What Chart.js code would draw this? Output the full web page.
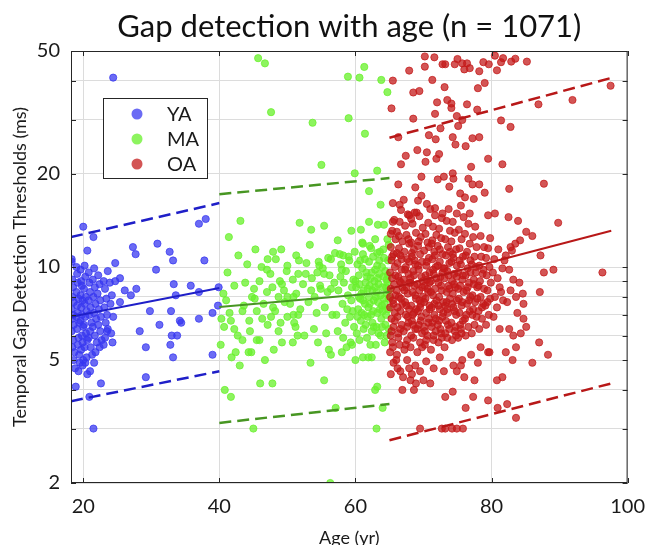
<!DOCTYPE html>
<html>
<head>
<meta charset="utf-8">
<script src="https://cdn.jsdelivr.net/npm/chart.js@4"></script>
<style>
  html, body { margin: 0; padding: 0; background: #fff; }
  #chart { display: block; }
</style>
</head>
<body>
<canvas id="chart" width="657" height="545"></canvas>
<script>
const chartTitle = "Gap detection with age (n = 1071)";
const ageTicks = [20, 40, 60, 80, 100];
const gapTicks = [2, 3, 4, 5, 6, 7, 8, 9, 10, 20, 30, 40, 50];
const gapLabels = [2, 5, 10, 20, 50];
const groupNames = ["YA", "MA", "OA"];

// [age (yr), threshold (ms)]
const yaPoints = [
  [18.3,10.4],[18.4,9.1],[18.5,8.6],[18.4,8.0],[18.6,7.7],[18.3,7.3],[18.5,7.0],[18.4,6.8],[18.6,6.5],[18.3,6.2],[18.5,5.8],[18.4,5.5],[18.7,5.3],[18.6,5.0],[18.8,4.7],
  [19.0,10.0],[19.1,9.5],[19.2,8.9],[19.0,8.3],[19.3,7.9],[19.1,7.5],[19.2,7.1],[19.0,6.9],[19.4,6.6],[19.1,6.3],[19.3,5.9],[19.2,5.6],[19.4,5.2],[19.5,4.9],[19.3,4.6],
  [19.6,9.8],[19.7,9.0],[19.8,8.7],[19.6,8.1],[19.9,7.8],[19.7,7.4],[19.8,7.0],[19.6,6.7],[20.0,6.4],[19.8,6.0],[19.9,5.7],[19.7,5.4],[20.0,5.0],[19.9,4.8],
  [20.2,10.1],[20.3,9.3],[20.1,8.5],[20.4,8.0],[20.2,7.6],[20.5,7.2],[20.3,6.9],[20.1,6.5],[20.4,6.1],[20.6,5.8],[20.2,5.5],[20.5,5.1],[20.3,4.9],[20.6,4.5],
  [20.8,9.6],[20.9,8.9],[21.0,8.3],[20.8,7.8],[21.1,7.4],[20.9,7.0],[21.2,6.6],[21.0,6.2],[20.8,5.9],[21.1,5.5],[21.3,5.2],[21.0,4.6],
  [21.6,9.9],[21.4,9.1],[21.7,8.6],[21.5,8.0],[21.8,7.6],[21.6,7.1],[21.9,6.8],[21.4,6.4],[21.7,6.0],[22.0,5.7],[21.8,5.3],[21.6,4.9],
  [22.2,9.4],[22.4,8.8],[22.1,8.2],[22.5,7.8],[22.3,7.3],[22.6,6.9],[22.2,6.5],[22.5,6.2],[22.7,5.8],[22.4,5.5],
  [23.0,9.0],[23.2,8.5],[23.4,7.9],[23.1,7.4],[23.5,7.0],[23.3,6.6],[23.6,6.3],[23.2,5.9],[23.0,5.6],
  [23.9,8.9],[24.2,8.1],[24.0,7.6],[24.4,6.9],[24.1,6.1],
  [20.0,13.5],[21.5,12.5],[20.6,11.3],[27.3,11.6],[27.7,11.0],[30.9,11.9],[32.7,11.2],[33.2,10.5],[37.0,13.8],[38.0,14.3],
  [37.8,10.5],[30.7,9.8],[24.7,10.3],[23.6,9.7],[25.4,9.2],[24.7,9.0],[26.1,8.4],[27.8,8.5],[27.0,8.1],[33.3,8.8],
  [35.8,8.7],[33.6,8.1],[37.0,8.3],[25.4,7.7],[29.8,7.2],[32.9,7.2],[39.0,7.1],[39.8,7.5],[31.2,6.5],[34.2,6.7],
  [34.4,6.6],[37.0,6.8],[28.3,6.2],[33.0,6.0],[33.8,6.0],[29.2,5.5],[32.8,5.6],[33.2,5.1],[39.0,5.2],[29.2,4.4],
  [22.6,4.2],[20.9,3.8],[21.5,3.0],[18.9,4.1],[24.4,41.0],[18.3,10.6],[23.5,6.2],[24.3,5.7],[39.9,8.6]
];

const maPoints = [
  [45.7,47.4],[46.7,45.6],[47.6,31.7],[53.7,29.3],[55.0,21.4],[58.9,41.3],[60.6,41.0],[61.3,44.4],[63.8,40.3],[64.7,36.8],
  [59.0,30.3],[61.4,27.0],[63.2,20.5],[59.9,20.1],[62.0,17.6],[63.7,15.9],[43.1,14.1],[41.4,12.5],[51.8,13.9],[53.5,13.2],
  [55.4,13.6],[59.4,13.1],[60.8,13.2],[62.0,14.0],[63.3,13.7],[64.2,13.7],[57.4,12.2],[61.1,11.9],[62.9,12.3],[45.3,11.4],
  [49.1,11.4],[42.8,10.9],[47.9,11.2],[51.3,10.9],[51.7,10.5],[47.1,10.6],[46.2,10.0],[47.5,9.5],[41.2,9.6],[50.0,10.1],
  [51.6,9.5],[52.7,9.5],[54.7,10.1],[54.4,9.6],[55.4,9.5],[56.4,10.6],[57.0,11.1],[58.2,10.9],[59.0,10.8],[58.0,9.8],
  [60.7,10.5],[62.1,11.7],[63.2,11.1],[45.1,8.5],[47.0,8.3],[49.2,8.8],[48.7,8.0],[50.0,8.0],[50.9,8.0],[53.5,8.4],
  [54.9,8.5],[56.4,8.5],[43.4,7.2],[41.7,6.7],[42.2,6.3],[40.7,6.4],[44.4,6.7],[45.5,7.2],[47.1,6.5],[47.6,6.9],
  [47.9,7.4],[48.2,7.2],[48.7,6.2],[50.0,6.9],[50.9,7.0],[51.6,7.0],[51.2,6.4],[51.5,6.0],[49.2,5.7],[50.8,5.7],
  [43.4,5.8],[40.2,5.6],[45.5,5.8],[45.9,5.8],[44.3,5.3],[44.7,5.3],[42.4,5.3],[41.8,5.1],[43.0,4.8],[46.7,5.0],
  [53.4,4.9],[54.5,5.7],[56.1,5.4],[56.4,5.2],[46.0,4.2],[47.8,4.2],[40.8,4.0],[41.7,3.8],[55.4,4.3],[57.1,3.5],
  [63.2,4.1],[62.9,4.0],[64.0,3.5],[45.0,3.0],[63.1,3.0],[60.0,5.0],[61.1,5.1],[61.9,5.1],[62.4,5.1],[58.0,5.3],
  [58.7,5.5],[59.5,5.6],[56.3,2.0],
  [40.3,6.8],[40.6,8.2],[41.5,7.1],[42.7,6.0],[43.8,8.9],[44.5,6.2],[45.2,7.9],[46.3,6.8],[47.0,9.8],[48.0,5.4],
  [49.0,6.6],[49.5,8.4],
  [50.4,7.6],[50.8,9.1],[51.3,8.2],[51.9,7.3],[52.3,8.8],[52.8,10.3],[53.1,7.7],[53.6,9.2],[54.0,8.0],[54.3,7.1],
  [54.8,8.7],[55.2,9.9],[55.5,7.4],[55.9,8.3],[56.2,9.4],[56.6,7.0],[56.9,8.9],[53.9,6.3],[55.7,6.1],[52.5,6.0],
  [51.0,6.6],[49.6,7.7],[48.9,9.0],[49.9,9.7],[46.5,7.6],[44.8,8.0],[43.6,7.5],[42.2,8.7],[41.0,7.8],[45.9,9.0],
  [47.8,8.6],[53.3,11.8],[56.0,10.7],[54.6,10.4],[48.3,10.6],[44.1,10.2],
  [57.2,7.0],[57.5,8.4],[57.8,9.3],[57.4,6.2],[57.9,10.2],[58.1,7.6],[58.3,8.9],[58.5,6.6],[58.6,9.7],[58.8,7.3],
  [58.9,8.1],[59.1,10.5],[59.2,6.9],[59.4,7.8],[59.5,8.6],[59.7,9.1],[59.8,6.4],[59.9,11.2],[59.6,7.2],[58.2,5.9],
  [57.7,11.0],[59.3,5.7],
  [60.2,6.1],[60.4,7.3],[60.1,8.6],[60.5,9.4],[60.3,10.2],[60.6,5.8],[60.8,6.7],[60.7,7.9],[60.9,8.2],[61.0,9.9],
  [61.1,11.0],[61.2,6.3],[61.3,7.0],[61.4,7.6],[61.5,8.9],[61.6,9.6],[61.4,10.6],[61.7,5.9],[61.8,6.9],[61.9,7.4],
  [62.0,8.0],[62.1,8.7],[62.2,9.2],[62.0,10.4],[62.3,11.5],[62.4,6.2],[62.5,6.6],[62.6,7.2],[62.7,7.8],[62.5,8.4],
  [62.8,9.0],[62.9,9.8],[62.6,10.8],[63.0,5.6],[63.1,6.4],[63.2,7.1],[63.3,7.7],[63.1,8.3],[63.4,8.8],[63.5,9.5],
  [63.2,10.1],[63.6,11.2],[63.7,6.0],[63.8,6.8],[63.9,7.5],[63.7,8.1],[64.0,8.6],[64.1,9.3],[63.9,10.0],[64.2,10.7],
  [64.3,5.7],[64.4,6.5],[64.5,7.0],[64.3,7.6],[64.6,8.2],[64.7,8.9],[64.4,9.7],[64.8,10.5],[64.9,6.3],[64.8,7.3],
  [64.9,7.9],[64.6,9.1],[64.9,11.8],[64.7,12.3],
  [60.3,6.9],[60.6,8.8],[60.9,7.1],[61.2,8.4],[61.5,6.5],[61.8,8.5],[62.1,7.6],[62.4,9.6],[62.7,6.4],[63.0,8.0],
  [63.3,9.2],[63.6,7.3],[63.9,6.4],[64.2,7.9],[64.5,8.6],[64.8,9.4],[64.1,11.4],[63.4,6.1],[62.2,5.6],[61.0,12.0],
  [64.6,6.0],[64.9,8.4],[64.0,7.2],[63.5,10.5],[62.9,8.6],[62.3,7.0],[61.7,9.3],[61.1,7.8],[60.5,8.0],[60.0,9.0]
];

const oaPoints = [
  [65.1,5.3],[65.4,5.7],[65.2,6.0],[65.6,6.4],[65.3,6.8],[65.8,7.1],[65.1,7.4],[65.5,7.8],[65.9,8.1],[65.2,8.5],
  [65.7,8.8],[65.4,9.2],[65.1,9.6],[65.8,10.0],[65.3,10.5],[65.6,11.0],[65.2,11.6],[65.9,12.3],[65.4,13.1],[65.7,14.2],
  [65.3,6.2],[65.6,7.6],[65.9,9.4],[65.1,8.0],[65.5,5.5],[65.8,6.7],[65.4,10.8],[65.2,12.8],
  [66.1,5.2],[66.5,5.6],[66.3,6.1],[66.8,6.5],[66.2,6.9],[66.6,7.2],[66.9,7.6],[66.4,8.0],[66.1,8.4],[66.7,8.9],
  [66.3,9.3],[66.8,9.8],[66.2,10.3],[66.6,10.9],[66.4,11.5],[66.9,12.1],[66.1,13.0],[66.5,14.0],[66.7,15.3],[66.3,5.9],
  [66.6,6.3],[66.9,8.6],[66.2,7.4],[66.5,9.0],[66.8,10.6],[66.4,12.6],[66.7,7.9],[66.1,11.1],
  [67.2,5.4],[67.6,5.8],[67.1,6.2],[67.8,6.6],[67.4,7.0],[67.9,7.3],[67.3,7.7],[67.7,8.2],[67.5,8.6],[67.1,9.1],
  [67.8,9.5],[67.4,10.0],[67.6,10.6],[67.2,11.2],[67.9,11.9],[67.5,12.7],[67.3,13.6],[67.7,14.8],[67.1,16.5],[67.6,6.4],
  [67.9,8.9],[67.3,9.8],[67.8,12.3],[67.5,7.5],[67.2,8.4],[67.7,6.9],[67.4,5.6],[67.9,10.4],
  [68.1,5.5],[68.5,5.9],[68.8,6.3],[68.3,6.7],[68.6,7.1],[68.2,7.5],[68.9,7.9],[68.4,8.3],[68.7,8.7],[68.1,9.2],
  [68.5,9.7],[68.8,10.2],[68.3,10.8],[68.6,11.4],[68.2,12.0],[68.9,12.9],[68.4,13.8],[68.7,15.0],[68.2,6.0],[68.5,6.5],
  [68.8,8.1],[68.1,8.9],[68.6,9.4],[68.3,11.1],[68.9,7.3],[68.4,7.0],[68.7,10.5],[68.2,14.3],
  [69.1,5.3],[69.5,5.7],[69.8,6.1],[69.3,6.5],[69.7,6.9],[69.2,7.2],[69.6,7.6],[69.9,8.0],[69.4,8.4],[69.1,8.8],
  [69.7,9.3],[69.3,9.8],[69.8,10.4],[69.5,11.0],[69.2,11.7],[69.6,12.5],[69.9,13.4],[69.4,14.6],[69.7,17.0],[69.1,6.3],
  [69.4,7.8],[69.8,8.6],[69.2,10.1],[69.6,6.7],[69.9,9.0],[69.3,12.1],[69.5,7.4],[69.8,5.5],
  [70.2,5.6],[70.6,6.0],[70.1,6.4],[70.8,6.8],[70.4,7.1],[70.9,7.5],[70.3,7.9],[70.7,8.3],[70.2,8.7],[70.5,9.1],
  [70.9,9.6],[70.4,10.1],[70.8,10.7],[70.1,11.3],[70.6,12.0],[70.3,12.8],[70.7,13.9],[70.5,16.0],[70.2,6.2],[70.9,7.3],
  [70.6,8.5],[70.3,9.4],[70.8,11.6],[70.4,5.8],[70.7,6.6],[70.1,7.7],[70.5,10.4],[70.9,8.9],
  [71.1,5.4],[71.5,5.8],[71.8,6.2],[71.3,6.6],[71.6,7.0],[71.2,7.4],[71.9,7.8],[71.4,8.1],[71.7,8.5],[71.1,9.0],
  [71.5,9.5],[71.8,10.0],[71.3,10.6],[71.6,11.2],[71.2,11.9],[71.9,12.7],[71.4,13.5],[71.7,14.7],[71.2,6.4],[71.6,7.6],
  [71.9,9.2],[71.4,9.8],[71.1,8.3],[71.8,6.8],[71.3,12.2],[71.5,6.0],[71.7,10.9],
  [72.2,5.7],[72.6,6.1],[72.1,6.5],[72.8,6.9],[72.4,7.3],[72.9,7.7],[72.3,8.0],[72.7,8.4],[72.2,8.9],[72.5,9.3],
  [72.9,9.9],[72.4,10.4],[72.8,11.0],[72.1,11.7],[72.6,12.4],[72.3,13.3],[72.7,14.4],[72.5,6.3],[72.9,7.1],[72.2,7.5],
  [72.6,8.7],[72.8,9.6],[72.4,11.4],[72.1,10.1],[72.7,5.9],[72.3,6.7],
  [73.1,5.5],[73.5,5.9],[73.8,6.3],[73.3,6.7],[73.6,7.1],[73.2,7.5],[73.9,7.9],[73.4,8.3],[73.7,8.7],[73.1,9.2],
  [73.5,9.7],[73.8,10.3],[73.3,10.9],[73.6,11.6],[73.2,12.3],[73.9,13.1],[73.4,14.1],[73.7,15.4],[73.2,6.1],[73.5,7.3],
  [73.8,8.5],[73.1,9.9],[73.6,6.5],[73.9,11.2],[73.4,7.7],[73.7,9.4],
  [74.2,5.8],[74.6,6.2],[74.1,6.6],[74.8,7.0],[74.4,7.4],[74.9,7.8],[74.3,8.2],[74.7,8.6],[74.2,9.0],[74.5,9.5],
  [74.9,10.1],[74.4,10.7],[74.8,11.4],[74.1,12.1],[74.6,12.9],[74.3,14.0],[74.7,6.4],[74.2,7.6],[74.5,8.8],[74.9,9.3],
  [74.3,11.0],[74.6,7.2],[74.8,6.0],[74.1,10.4],
  [75.1,5.9],[75.5,6.3],[75.8,6.7],[75.3,7.1],[75.6,7.5],[75.2,7.9],[75.9,8.3],[75.4,8.7],[75.7,9.1],[75.1,9.6],
  [75.5,10.2],[75.8,10.8],[75.3,11.5],[75.6,12.3],[75.2,13.2],[75.9,14.5],[75.4,6.5],[75.7,7.7],[75.1,8.5],[75.8,9.4],
  [75.3,10.5],[75.6,6.1],
  [76.2,6.0],[76.6,6.4],[76.1,6.8],[76.8,7.2],[76.4,7.6],[76.9,8.0],[76.3,8.4],[76.7,8.9],[76.2,9.4],[76.5,9.9],
  [76.9,10.5],[76.4,11.2],[76.8,11.9],[76.1,12.8],[76.6,13.8],[76.3,7.0],[76.7,7.8],[76.5,8.6],[76.9,9.6],[76.2,10.9],
  [77.1,6.1],[77.5,6.5],[77.8,6.9],[77.3,7.3],[77.6,7.7],[77.2,8.1],[77.9,8.6],[77.4,9.1],[77.7,9.6],[77.1,10.2],
  [77.5,10.8],[77.8,11.6],[77.3,12.5],[77.6,13.5],[77.2,7.0],[77.9,7.9],[77.4,8.8],[77.7,10.0],
  [78.2,6.3],[78.6,6.8],[78.1,7.2],[78.8,7.6],[78.4,8.0],[78.9,8.5],[78.3,9.0],[78.7,9.5],[78.2,10.1],[78.5,10.8],
  [78.9,11.6],[78.4,12.6],[78.6,7.4],[78.1,8.7],[78.8,9.8],
  [79.2,6.5],[79.6,7.0],[79.1,7.5],[79.8,7.9],[79.4,8.4],[79.9,8.9],[79.3,9.4],[79.7,10.0],[79.2,10.7],[79.5,11.5],
  [79.8,12.4],[79.4,7.7],
  [80.3,6.9],[80.8,7.4],[80.5,8.0],[81.2,8.6],[80.9,9.2],[81.6,9.9],[80.4,10.6],[81.0,11.4],[81.7,7.8],[81.4,8.3],
  [80.2,9.6],[81.9,10.5],[82.3,7.7],[82.8,8.4],[83.2,9.1],[82.6,9.8],[83.6,8.0],[84.1,8.9],[82.1,10.9],[83.0,11.3],
  [70.2,48.0],[71.6,47.7],[70.2,44.5],[67.9,43.2],[72.8,45.3],[73.2,45.3],[74.6,45.3],[75.0,47.1],[75.7,45.6],[76.4,45.6],
  [76.0,43.6],[76.8,44.0],[78.2,43.0],[78.8,46.0],[79.6,45.3],[80.5,48.3],[81.7,47.4],[81.4,46.0],[82.9,46.2],[83.5,47.2],
  [85.2,46.2],[80.8,43.3],[71.3,40.3],[65.5,40.1],[79.0,39.4],[73.1,38.2],[68.5,36.7],[69.4,37.1],[78.0,37.9],[72.0,34.1],
  [73.5,34.7],[74.1,33.8],[74.1,32.7],[76.4,33.6],[77.9,32.3],[65.3,32.6],[71.7,31.3],[68.5,30.2],[74.9,30.8],[75.7,29.9],
  [75.1,28.6],[81.4,29.8],[82.8,28.4],[86.9,33.6],[91.9,34.7],[97.5,38.6],[72.5,28.1],[66.3,26.3],[70.8,26.7],[71.8,25.9],
  [74.3,26.3],[77.2,26.1],[78.2,26.3],[74.7,24.9],[76.2,24.6],[69.1,23.9],[70.5,23.5],[67.4,22.9],[72.3,23.2],[71.9,22.4],
  [79.5,22.4],[70.3,21.9],[66.7,21.5],[81.6,21.5],[77.0,21.1],[69.7,19.6],[72.1,19.2],[73.0,19.6],[74.3,20.1],[74.4,19.3],
  [76.6,19.3],[77.2,18.5],[78.2,18.5],[66.3,18.5],[68.8,18.1],[73.8,18.2],[87.7,18.6],[82.6,17.9],[79.0,17.4],[75.4,17.3],
  [76.1,16.8],[77.4,16.6],[65.5,16.1],[66.5,15.9],[69.2,16.4],[75.5,15.8],[71.0,15.4],[71.7,15.5],[72.8,14.9],[74.9,14.9],
  [76.8,14.9],[79.5,14.7],[80.5,14.9],[67.9,14.7],[69.0,15.0],[82.5,14.5],[65.5,14.0],[83.9,14.1],[89.8,13.9],[86.0,12.6],
  [87.2,10.9],[89.1,9.8],[87.7,9.6],[96.3,9.6],[85.1,13.0],[84.2,12.2],[83.5,11.9],[82.8,11.6],
  [87.1,8.3],[84.6,8.2],[84.7,7.6],[83.8,7.1],[84.7,6.8],[85.1,6.4],[84.3,6.1],[87.0,5.7],[88.3,5.2],[86.0,4.9],
  [83.6,5.5],[83.1,5.0],[82.1,5.3],[81.2,6.3],[82.6,6.3],[83.2,6.0],[79.7,5.3],[79.5,5.3],[78.4,5.5],[80.8,4.3],
  [81.6,4.4],[77.5,4.3],[82.3,3.6],[80.9,3.5],[79.5,3.7],[77.3,3.8],[76.2,3.5],[83.6,3.25],[74.3,3.95],[73.2,3.8],
  [69.5,3.0],[72.7,3.0],[73.2,3.0],[74.2,3.0],[74.9,3.0],[75.8,3.0],[71.0,4.2],[68.6,4.0],[66.9,4.0],[67.9,4.7],
  [66.2,4.7],[65.2,4.5],[68.9,4.2],[68.1,4.3],[70.4,4.95],[68.8,4.8],[67.6,5.0],[74.4,4.8],[75.5,4.8],[75.7,5.0],
  [65.6,4.9],[66.0,5.0],[66.6,4.6],[67.0,4.4],[68.3,4.5],[69.5,4.6],[70.0,4.3],[71.5,4.7],[72.4,5.1],[73.0,4.6],
  [77.0,5.2],[78.0,4.9],[76.0,4.4],[74.9,4.6]
];

// fitted lines and prediction bounds
const yaFit = [[18.2, 6.9], [40, 8.55]];
const yaUpper = [[18.2, 12.5], [40, 16.1]];
const yaLower = [[18.2, 3.68], [40, 4.6]];
const maFit = [[40, 7.42], [65, 8.3]];
const maUpper = [[40, 17.2], [65, 19.4]];
const maLower = [[40, 3.13], [65, 3.6]];
const oaFit = [[65, 8.5], [97.6, 13.1]];
const oaUpper = [[65, 26.2], [97.6, 40.9]];
const oaLower = [[65, 2.75], [97.6, 4.2]];

const pointFill = ["rgba(55,55,240,0.74)", "rgba(105,240,45,0.76)", "rgba(195,25,25,0.74)"];
const lineColor = ["#1f1fc8", "#479622", "#b81818"];

const toXY = pts => pts.map(p => ({ x: p[0], y: p[1] }));

function fitLine(pts, color, dashed) {
  return {
    type: "line",
    data: toXY(pts),
    borderColor: color,
    borderWidth: dashed ? 2.5 : 2,
    borderDash: dashed ? [12, 6] : [],
    pointRadius: 0,
    showLine: true,
    fill: false,
    order: 0
  };
}

function pointSet(label, pts, i) {
  return {
    label: label,
    data: toXY(pts),
    backgroundColor: pointFill[i],
    borderColor: pointFill[i],
    borderWidth: 1,
    pointRadius: 3.6,
    showLine: false,
    order: 3 - i
  };
}

const frame = {
  id: "frame",
  afterDatasetsDraw(chart) {
    const { ctx, chartArea: a, scales: { x, y } } = chart;
    ctx.save();
    ctx.strokeStyle = "#262626";
    ctx.lineWidth = 1;
    ctx.strokeRect(a.left + 0.5, a.top + 0.5, a.right - a.left - 1, a.bottom - a.top - 1);

    // MATLAB-style inward ticks on all four sides
    ctx.beginPath();
    ageTicks.forEach(v => {
      const px = Math.round(x.getPixelForValue(v)) + 0.5;
      ctx.moveTo(px, a.bottom); ctx.lineTo(px, a.bottom - 5);
      ctx.moveTo(px, a.top); ctx.lineTo(px, a.top + 5);
    });
    gapTicks.forEach(v => {
      const py = Math.round(y.getPixelForValue(v)) + 0.5;
      ctx.moveTo(a.left, py); ctx.lineTo(a.left + 5, py);
      ctx.moveTo(a.right, py); ctx.lineTo(a.right - 5, py);
    });
    ctx.stroke();

    // title centred over the axes, as MATLAB places it
    ctx.fillStyle = "#111";
    ctx.font = "31px Lato, 'Open Sans', sans-serif";
    ctx.textAlign = "center";
    ctx.textBaseline = "middle";
    ctx.fillText(chartTitle, (a.left + a.right) / 2, 27);

    // legend box inside the axes
    const bx = a.left + 32, by = a.top + 47, bw = 104, bh = 80;
    ctx.fillStyle = "#fff";
    ctx.fillRect(bx, by, bw, bh);
    ctx.strokeStyle = "#262626";
    ctx.strokeRect(bx + 0.5, by + 0.5, bw, bh);
    ctx.font = "20px Lato, 'Open Sans', sans-serif";
    ctx.textAlign = "left";
    groupNames.forEach((name, i) => {
      const cy = by + 16 + i * 25;
      ctx.beginPath();
      ctx.arc(bx + 34, cy, 5.5, 0, Math.PI * 2);
      ctx.fillStyle = pointFill[i];
      ctx.fill();
      ctx.fillStyle = "#1a1a1a";
      ctx.fillText(name, bx + 64, cy + 1);
    });
    ctx.restore();
  }
};

const datasets = [
  fitLine(yaFit, lineColor[0], false), fitLine(yaUpper, lineColor[0], true), fitLine(yaLower, lineColor[0], true),
  fitLine(maFit, lineColor[1], false), fitLine(maUpper, lineColor[1], true), fitLine(maLower, lineColor[1], true),
  fitLine(oaFit, lineColor[2], false), fitLine(oaUpper, lineColor[2], true), fitLine(oaLower, lineColor[2], true),
  pointSet(groupNames[0], yaPoints, 0),
  pointSet(groupNames[1], maPoints, 1),
  pointSet(groupNames[2], oaPoints, 2)
];

Chart.defaults.font.family = "Lato, 'Open Sans', sans-serif";
Chart.defaults.color = "#1a1a1a";

new Chart(document.getElementById("chart"), {
  type: "scatter",
  data: { datasets: datasets },
  options: {
    responsive: false,
    animation: false,
    layout: { padding: { left: 0, right: 22, top: 51, bottom: 0 } },
    plugins: {
      legend: { display: false },
      tooltip: { enabled: false },
      title: { display: false }
    },
    scales: {
      x: {
        type: "linear",
        min: 18.2,
        max: 100,
        afterBuildTicks: s => { s.ticks = ageTicks.map(v => ({ value: v })); },
        afterFit: s => { s.height = 62; },
        grid: { color: "#dcdcdc", drawTicks: false },
        border: { display: false },
        ticks: { font: { size: 20 }, padding: 12, maxRotation: 0, callback: v => String(v) },
        title: { display: true, text: "Age (yr)", font: { size: 18 }, padding: { top: 0, bottom: -4 } }
      },
      y: {
        type: "logarithmic",
        min: 2,
        max: 50,
        afterBuildTicks: s => { s.ticks = gapTicks.map(v => ({ value: v })); },
        afterFit: s => { s.width = 71; },
        grid: { color: "#dcdcdc", drawTicks: false },
        border: { display: false },
        ticks: { font: { size: 20 }, padding: 11, autoSkip: false, callback: v => gapLabels.includes(v) ? String(v) : "" },
        title: { display: true, text: "Temporal Gap Detection Thresholds (ms)", font: { size: 18 }, padding: { top: 9, bottom: 0 } }
      }
    }
  },
  plugins: [frame]
});
</script>
</body>
</html>
